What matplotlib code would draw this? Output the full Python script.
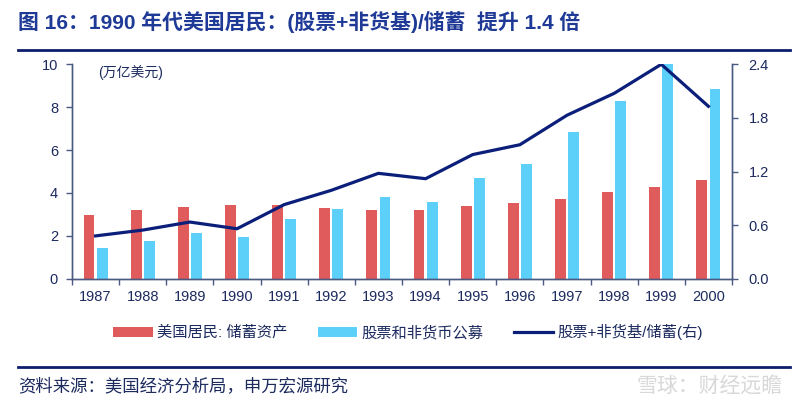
import matplotlib
matplotlib.use("Agg")
import matplotlib.pyplot as plt
from matplotlib.lines import Line2D
import numpy as np

plt.rcParams['font.family'] = ['Liberation Sans', 'Noto Sans CJK SC', 'DejaVu Sans']

years = ["1987", "1988", "1989", "1990", "1991", "1992", "1993",
         "1994", "1995", "1996", "1997", "1998", "1999", "2000"]
savings = [2.97, 3.19, 3.36, 3.45, 3.42, 3.30, 3.22,
           3.19, 3.39, 3.55, 3.72, 4.03, 4.28, 4.60]
stocks_funds = [1.43, 1.74, 2.12, 1.93, 2.80, 3.25, 3.80,
                3.56, 4.70, 5.33, 6.83, 8.29, 10.0, 8.85]
ratio = [0.48, 0.545, 0.635, 0.56, 0.83, 0.99, 1.18,
         1.12, 1.39, 1.50, 1.83, 2.075, 2.40, 1.93]

RED = "#E05C5C"
BLUE = "#5CD0F9"
NAVY = "#0B1F7A"
TXT = "#1C2A5E"
SPINE = "#4A5A82"

fig = plt.figure(figsize=(8.0, 4.07), dpi=100)
ax = fig.add_axes([0.09, 0.315, 0.825, 0.527])
ax2 = ax.twinx()

x = np.arange(len(years))
w = 0.23
ax.bar(x - 0.14, savings, width=w, color=RED, label="美国居民: 储蓄资产", zorder=2)
ax.bar(x + 0.14, stocks_funds, width=w, color=BLUE, label="股票和非货币公募", zorder=2)
ax2.plot(x, ratio, color=NAVY, linewidth=2.3, label="股票+非货基/储蓄(右)",
         solid_joinstyle="round")

ax.set_xlim(-0.5, len(years) - 0.5)
ax.set_ylim(0, 10)
ax.set_yticks([0, 2, 4, 6, 8, 10])
ax2.set_ylim(0, 2.4)
ax2.set_yticks([0.0, 0.6, 1.2, 1.8, 2.4])
ax2.set_yticklabels(["0.0", "0.6", "1.2", "1.8", "2.4"])

ax.set_xticks(x)
ax.set_xticklabels(years)
ax.set_xticks(np.arange(-0.5, len(years), 1.0), minor=True)
ax.tick_params(axis="x", which="major", length=0, pad=8, labelsize=10.5, labelcolor=TXT)
ax.tick_params(axis="x", which="minor", length=4, width=1, color=SPINE, direction="out")
ax.tick_params(axis="y", length=4, width=1, color=SPINE, labelsize=10.5, labelcolor=TXT, pad=6)
ax2.tick_params(axis="y", length=4, width=1, color=SPINE, labelsize=10.5, labelcolor=TXT, pad=8)

for a in (ax, ax2):
    a.spines["top"].set_visible(False)
    for s in ("left", "right", "bottom"):
        a.spines[s].set_color(SPINE)
        a.spines[s].set_linewidth(1.0)

ax.text(0.04, 0.96, "(万亿美元)", transform=ax.transAxes, fontsize=10,
        color=TXT, va="center", ha="left")

h1, l1 = ax.get_legend_handles_labels()
h2, l2 = ax2.get_legend_handles_labels()
fig.legend(h1 + h2, l1 + l2, loc="center", bbox_to_anchor=(0.51, 0.184), ncol=3,
           frameon=False, fontsize=11, handlelength=2.6, handleheight=0.6,
           handletextpad=0.25, columnspacing=2.0, labelcolor=TXT)

# title and rules
fig.text(0.023, 0.945, "图 16：1990 年代美国居民：(股票+非货基)/储蓄  提升 1.4 倍",
         fontsize=15, fontweight="bold", color="#1F3A96", ha="left", va="center")
fig.add_artist(Line2D([0.022, 0.988], [0.877, 0.877], color="#0E1E6B", linewidth=2.0))
fig.add_artist(Line2D([0.022, 0.988], [0.098, 0.098], color="#0E1E6B", linewidth=2.0))
fig.text(0.023, 0.052, "资料来源：美国经济分析局，申万宏源研究", fontsize=12.5,
         color=TXT, ha="left", va="center")
fig.text(0.978, 0.052, "雪球：财经远瞻", fontsize=15, color="#D8D8D8",
         ha="right", va="center")

fig.savefig("out.png", dpi=100)
